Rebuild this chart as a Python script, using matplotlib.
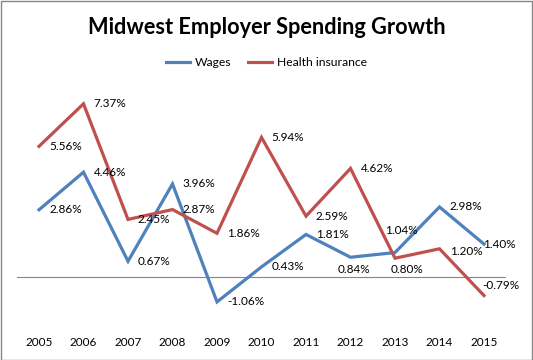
import matplotlib.pyplot as plt
from matplotlib.patches import Rectangle
import matplotlib.transforms as mtransforms

years = ["2005", "2006", "2007", "2008", "2009", "2010", "2011", "2012", "2013", "2014", "2015"]
wages = [2.86, 4.46, 0.67, 3.96, -1.06, 0.43, 1.81, 0.84, 1.04, 2.98, 1.40]
health = [5.56, 7.37, 2.45, 2.87, 1.86, 5.94, 2.59, 4.62, 0.80, 1.20, -0.79]

blue = "#4F81BD"
red = "#C0504D"
font = "Lato"

# label offsets in pixels (dx, dy, ha); default is to the right of the point
wage_off = {7: (3, -12, "center"), 8: (-10, 22, "left"), 10: (-1, 0, "left")}
health_off = {8: (-4, -11, "left"), 9: (11, -3, "left"), 10: (-2, 10, "left")}

fig = plt.figure(figsize=(5.33, 3.6), dpi=100)
fig.patches.append(Rectangle((0.001, 0.001), 0.997, 0.996, transform=fig.transFigure,
                             fill=False, edgecolor="#868686", linewidth=1))

ax = fig.add_axes([16.75 / 533, 36 / 360, 489.5 / 533, 235 / 360])
x = list(range(len(years)))
ax.plot(x, wages, color=blue, linewidth=2.3, label="Wages", solid_joinstyle="miter")
ax.plot(x, health, color=red, linewidth=2.3, label="Health insurance", solid_joinstyle="miter")
ax.axhline(0, color="#868686", linewidth=0.8, zorder=0)
ax.set_xlim(-0.5, len(years) - 0.5)
ax.set_ylim(-2, 8)
ax.axis("off")

def put_labels(vals, offs):
    for i, v in enumerate(vals):
        dx, dy, ha = offs.get(i, (10, 0, "left"))
        tr = mtransforms.offset_copy(ax.transData, fig=fig, x=dx / 100 * 72, y=dy / 100 * 72, units="points")
        ax.text(i, v, f"{v:.2f}%", transform=tr, ha=ha, va="center",
                fontsize=8.5, family=font, color="black")

put_labels(wages, wage_off)
put_labels(health, health_off)

btr = mtransforms.blended_transform_factory(ax.transData, fig.transFigure)
for i, yr in enumerate(years):
    ax.text(i, 1 - 342 / 360, yr, transform=btr, ha="center", va="center",
            fontsize=8.5, family=font)

fig.text(0.5, 1 - 28 / 360, "Midwest Employer Spending Growth", ha="center", va="center",
         fontsize=15.7, fontweight="bold", family=font)

fig.legend(loc="center", bbox_to_anchor=(0.5, 1 - 63 / 360), ncol=2, frameon=False,
           prop={"family": font, "size": 8.7}, handlelength=2.0, handletextpad=0.4,
           columnspacing=1.4)

fig.savefig("out.png", dpi=100)
